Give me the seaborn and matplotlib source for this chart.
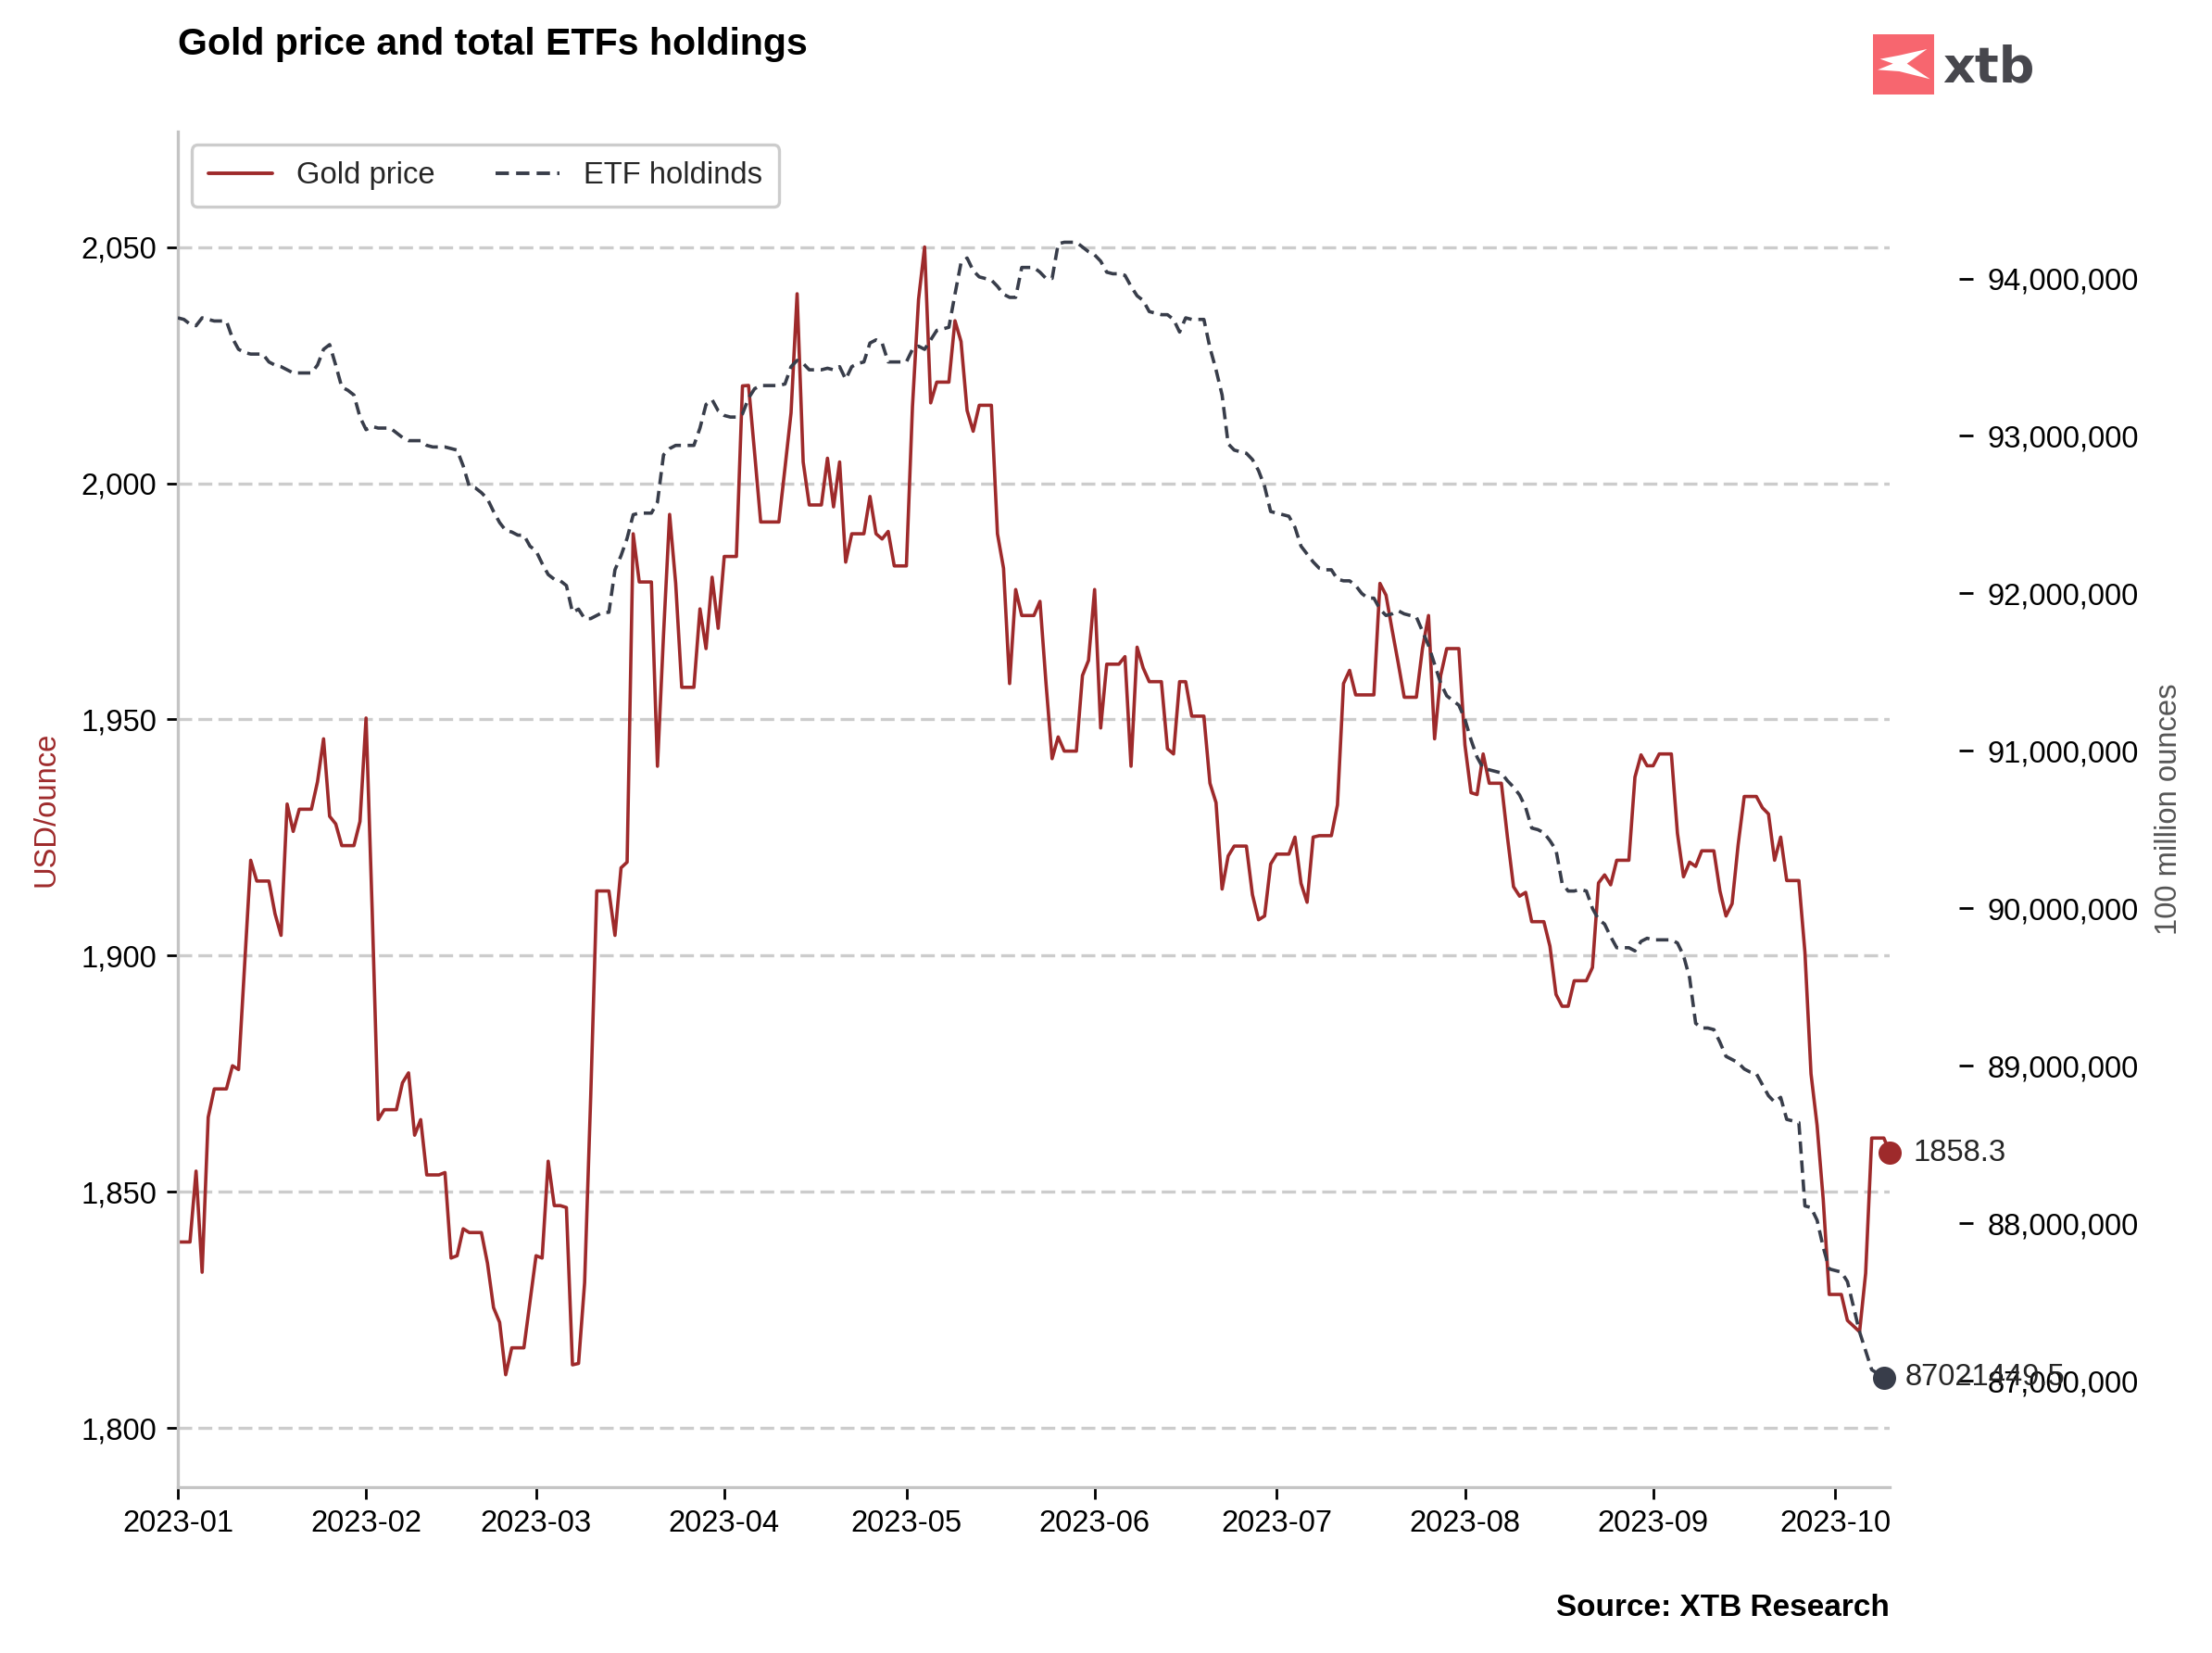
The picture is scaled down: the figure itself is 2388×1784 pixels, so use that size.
import numpy as np
import pandas as pd
import seaborn as sns
import matplotlib.pyplot as plt
import matplotlib.dates as mdates
from matplotlib.ticker import StrMethodFormatter, MultipleLocator
from matplotlib.patches import Rectangle, Polygon
from matplotlib.lines import Line2D

# daily values from 2023-01-01 (weekends repeat the next trading day)
gold_price = [
    # Jan
    1839.4, 1839.4, 1839.4, 1854.4, 1833.0, 1865.8, 1871.8, 1871.8, 1871.8, 1876.7,
    1875.9, 1898.0, 1920.2, 1915.8, 1915.8, 1915.8, 1908.9, 1904.3, 1932.1, 1926.3,
    1931.0, 1931.0, 1931.0, 1936.8, 1945.9, 1929.5, 1927.9, 1923.3, 1923.3, 1923.3,
    1928.4,
    # Feb
    1950.3, 1910.0, 1865.3, 1867.4, 1867.4, 1867.4, 1873.1, 1875.2, 1862.0, 1865.3,
    1853.6, 1853.6, 1853.6, 1854.1, 1836.0, 1836.5, 1842.2, 1841.4, 1841.4, 1841.4,
    1834.9, 1825.5, 1822.4, 1811.3, 1817.0, 1817.0, 1817.0, 1826.7,
    # Mar
    1836.5, 1836.0, 1856.5, 1847.1, 1847.1, 1846.7, 1813.4, 1813.7, 1830.8, 1870.0,
    1913.7, 1913.7, 1913.7, 1904.3, 1918.6, 1919.8, 1989.3, 1979.1, 1979.1, 1979.1,
    1940.1, 1968.0, 1993.4, 1978.8, 1956.8, 1956.8, 1956.8, 1973.4, 1965.0, 1980.1,
    1969.3,
    # Apr
    1984.5, 1984.5, 1984.5, 2020.6, 2020.7, 2006.4, 1991.8, 1991.8, 1991.8, 1991.8,
    2003.2, 2014.9, 2040.1, 2004.5, 1995.4, 1995.4, 1995.4, 2005.3, 1995.0, 2004.5,
    1983.3, 1989.3, 1989.3, 1989.3, 1997.2, 1989.3, 1988.2, 1989.8, 1982.5, 1982.5,
    # May
    1982.5, 2016.2, 2038.9, 2050.0, 2017.0, 2021.4, 2021.4, 2021.4, 2034.4, 2030.0,
    2015.4, 2011.0, 2016.5, 2016.5, 2016.5, 1989.3, 1982.0, 1957.6, 1977.5, 1972.0,
    1972.0, 1972.0, 1975.0, 1957.6, 1941.7, 1946.3, 1943.3, 1943.3, 1943.3, 1959.3,
    1962.5,
    # Jun
    1977.5, 1948.2, 1961.7, 1961.7, 1961.7, 1963.3, 1940.1, 1965.3, 1960.9, 1958.0,
    1958.0, 1958.0, 1943.8, 1942.7, 1958.0, 1958.0, 1950.7, 1950.7, 1950.7, 1936.5,
    1932.4, 1914.1, 1921.1, 1923.2, 1923.2, 1923.2, 1912.9, 1907.6, 1908.4, 1919.4,
    # Jul
    1921.5, 1921.5, 1921.5, 1925.1, 1915.3, 1911.3, 1925.1, 1925.4, 1925.4, 1925.4,
    1931.9, 1957.6, 1960.4, 1955.2, 1955.2, 1955.2, 1955.2, 1978.8, 1976.3, 1969.0,
    1962.0, 1954.7, 1954.7, 1954.7, 1965.0, 1972.0, 1945.9, 1959.3, 1965.0, 1965.0,
    1965.0,
    # Aug
    1944.6, 1934.5, 1934.1, 1942.7, 1936.5, 1936.5, 1936.5, 1925.1, 1914.6, 1912.6,
    1913.4, 1907.2, 1907.2, 1907.2, 1902.0, 1891.8, 1889.3, 1889.3, 1894.7, 1894.7,
    1894.7, 1897.5, 1915.4, 1917.1, 1915.0, 1920.2, 1920.2, 1920.2, 1937.8, 1942.5,
    1940.2,
    # Sep
    1940.2, 1942.7, 1942.7, 1942.7, 1925.9, 1916.7, 1919.8, 1918.9, 1922.2, 1922.2,
    1922.2, 1913.7, 1908.4, 1911.0, 1923.5, 1933.7, 1933.7, 1933.7, 1931.3, 1930.0,
    1920.2, 1925.1, 1915.9, 1915.9, 1915.9, 1900.7, 1875.0, 1864.1, 1848.6, 1828.3,
    # Oct
    1828.3, 1828.3, 1822.8, 1821.6, 1820.4, 1832.8, 1861.4, 1861.4, 1861.4, 1858.3,
]

# ETF holdings, millions of ounces
etf_holdings_mn = [
    # Jan
    93.75, 93.74, 93.71, 93.70, 93.75, 93.74, 93.73, 93.73, 93.73, 93.62,
    93.55, 93.53, 93.52, 93.52, 93.52, 93.47, 93.45, 93.44, 93.42, 93.40,
    93.40, 93.40, 93.40, 93.45, 93.55, 93.58, 93.45, 93.31, 93.29, 93.26,
    93.12,
    # Feb
    93.04, 93.06, 93.05, 93.05, 93.05, 93.02, 92.99, 92.97, 92.97, 92.97,
    92.94, 92.93, 92.93, 92.93, 92.92, 92.91, 92.81, 92.68, 92.67, 92.64,
    92.60, 92.52, 92.45, 92.40, 92.39, 92.37, 92.37, 92.30,
    # Mar
    92.27, 92.19, 92.12, 92.09, 92.08, 92.05, 91.88, 91.90, 91.84, 91.84,
    91.86, 91.88, 91.88, 92.15, 92.24, 92.35, 92.50, 92.51, 92.51, 92.51,
    92.58, 92.88, 92.92, 92.94, 92.94, 92.94, 92.94, 93.05, 93.20, 93.23,
    93.16,
    # Apr
    93.13, 93.12, 93.12, 93.14, 93.24, 93.30, 93.32, 93.32, 93.32, 93.32,
    93.33, 93.44, 93.48, 93.46, 93.42, 93.42, 93.42, 93.43, 93.42, 93.44,
    93.36, 93.44, 93.46, 93.47, 93.59, 93.61, 93.59, 93.47, 93.47, 93.47,
    # May
    93.47, 93.55, 93.57, 93.55, 93.61, 93.67, 93.68, 93.69, 93.90, 94.10,
    94.13, 94.05, 94.01, 94.00, 93.99, 93.95, 93.90, 93.88, 93.88, 94.07,
    94.07, 94.07, 94.04, 94.00, 94.00, 94.22, 94.23, 94.23, 94.23, 94.20,
    94.17,
    # Jun
    94.15, 94.11, 94.04, 94.03, 94.03, 94.02, 93.95, 93.89, 93.86, 93.79,
    93.78, 93.77, 93.77, 93.74, 93.66, 93.75, 93.74, 93.74, 93.74, 93.56,
    93.42, 93.26, 92.95, 92.91, 92.90, 92.89, 92.85, 92.78, 92.68, 92.52,
    # Jul
    92.51, 92.50, 92.49, 92.42, 92.30, 92.25, 92.20, 92.16, 92.15, 92.15,
    92.09, 92.08, 92.08, 92.05, 92.00, 91.97, 91.97, 91.90, 91.86, 91.87,
    91.89, 91.87, 91.86, 91.85, 91.76, 91.67, 91.55, 91.43, 91.35, 91.32,
    91.29,
    # Aug
    91.20, 91.07, 90.96, 90.89, 90.88, 90.87, 90.86, 90.81, 90.77, 90.72,
    90.64, 90.51, 90.50, 90.48, 90.43, 90.37, 90.16, 90.11, 90.11, 90.12,
    90.11, 90.00, 89.93, 89.90, 89.82, 89.75, 89.75, 89.75, 89.73, 89.79,
    89.81,
    # Sep
    89.80, 89.80, 89.80, 89.80, 89.78, 89.70, 89.56, 89.27, 89.24, 89.24,
    89.23, 89.15, 89.06, 89.04, 89.02, 88.98, 88.96, 88.95, 88.88, 88.81,
    88.77, 88.80, 88.66, 88.65, 88.64, 88.11, 88.10, 88.02, 87.85, 87.71,
    # Oct
    87.70, 87.69, 87.63, 87.47, 87.31, 87.19, 87.07, 87.045, 87.0214495,
]

start_date = '2023-01-01'
gold_color = '#9E2A2B'
etf_color = '#383D4A'
fs = 11.8

sns.set_theme(style='white')
plt.rcParams['font.family'] = ['Liberation Sans', 'DejaVu Sans']

gold_df = pd.DataFrame({
    'date': pd.date_range(start_date, periods=len(gold_price), freq='D'),
    'price': gold_price,
})
etf_df = pd.DataFrame({
    'date': pd.date_range(start_date, periods=len(etf_holdings_mn), freq='D'),
    'holdings': np.array(etf_holdings_mn) * 1e6,
})

fig, ax = plt.subplots(figsize=(11.94, 8.92), dpi=200)
fig.subplots_adjust(left=0.0804, right=0.8544, bottom=0.1003, top=0.9206)
ax2 = ax.twinx()

etf_dash = (0, (3.7, 2.0))
sns.lineplot(data=gold_df, x='date', y='price', ax=ax, color=gold_color, lw=1.3, legend=False)
sns.lineplot(data=etf_df, x='date', y='holdings', ax=ax2, color=etf_color, lw=1.3,
             linestyle=etf_dash, legend=False)

# last value markers
g_last = gold_df.iloc[-1]
ax.plot(g_last['date'], g_last['price'], 'o', color=gold_color, ms=8, clip_on=False, zorder=6)
ax.annotate(f"{g_last['price']:.1f}", (g_last['date'], g_last['price']), xytext=(9, 0),
            textcoords='offset points', va='center', ha='left', fontsize=fs,
            annotation_clip=False)
e_last = etf_df.iloc[-1]
ax2.plot(e_last['date'], e_last['holdings'], 'o', color=etf_color, ms=8, clip_on=False, zorder=6)
ax2.annotate(str(round(e_last['holdings'], 1)), (e_last['date'], e_last['holdings']),
             xytext=(8.4, 0), textcoords='offset points', va='center', ha='left',
             fontsize=fs, annotation_clip=False)

# axes
ax.set_xlim(gold_df['date'].iloc[0], gold_df['date'].iloc[-1])
ax.set_ylim(1787.5, 2074.5)
ax2.set_ylim(86.324e6, 94.935e6)
ax.xaxis.set_major_locator(mdates.MonthLocator())
ax.xaxis.set_major_formatter(mdates.DateFormatter('%Y-%m'))
ax.yaxis.set_major_locator(MultipleLocator(50))
ax.yaxis.set_major_formatter(StrMethodFormatter('{x:,.0f}'))
ax2.yaxis.set_major_locator(MultipleLocator(1e6))
ax2.yaxis.set_major_formatter(StrMethodFormatter('{x:,.0f}'))
ax.set_xlabel('')
ax.set_ylabel('')
ax2.set_ylabel('')

ax.tick_params(axis='y', left=True, length=4.5, width=1, color='black', pad=3.8,
               labelsize=fs, labelcolor='black')
ax.tick_params(axis='x', bottom=True, length=4.5, width=1, color='black', pad=4,
               labelsize=fs, labelcolor='black')
ax2.tick_params(axis='y', right=True, length=5.4, width=1, color='black', pad=5.5,
                labelsize=fs, labelcolor='black')

for s in ['top', 'right']:
    ax.spines[s].set_visible(False)
for s in ['left', 'bottom']:
    ax.spines[s].set_color('#c4c4c4')
    ax.spines[s].set_linewidth(1.2)
for s in ax2.spines.values():
    s.set_visible(False)
ax2.spines['right'].set_position(('outward', 26.9))

ax.grid(axis='y', color='#cccccc', lw=1.2, linestyle=(0, (4.5, 2)))
ax.grid(axis='x', visible=False)
ax.set_axisbelow(True)

ax.text(-0.0768, 0.5, 'USD/ounce', transform=ax.transAxes, rotation=90,
        ha='center', va='center', color=gold_color, fontsize=fs)
ax.text(1.163, 0.5, '100 million ounces', transform=ax.transAxes, rotation=90,
        ha='center', va='center', color='#555555', fontsize=fs)

# legend
handles = [Line2D([], [], color=gold_color, lw=1.4),
           Line2D([], [], color=etf_color, lw=1.4, linestyle=etf_dash)]
leg = ax2.legend(handles, ['Gold price', 'ETF holdinds'], loc='upper left',
                 bbox_to_anchor=(0.008, 0.99), ncol=2, frameon=True, fontsize=fs,
                 handlelength=2.1, handletextpad=0.8, columnspacing=2.0,
                 borderpad=0.55, borderaxespad=0, fancybox=True, framealpha=1)
leg.get_frame().set_edgecolor('#cccccc')
leg.get_frame().set_linewidth(1.2)

# title, source, logo
fig.text(0.0804, 1 - 59 / 1784, 'Gold price and total ETFs holdings', fontsize=14.8,
         fontweight='bold', ha='left', va='baseline', color='black')
fig.text(2040 / 2388, 1 - 1736 / 1784, 'Source: XTB Research', fontsize=12,
         fontweight='bold', ha='right', va='center', color='black')

lx, ly, lw_, lh = 2022 / 2388, 1 - 102 / 1784, 66 / 2388, 65 / 1784
fig.add_artist(Rectangle((lx, ly), lw_, lh, transform=fig.transFigure,
                         facecolor='#F7666F', edgecolor='none'))
x_shape = [(0.116, 0.59), (0.43, 0.65), (0.884, 0.754), (0.556, 0.513),
           (0.934, 0.256), (0.43, 0.385), (0.076, 0.41), (0.328, 0.513)]
fig.add_artist(Polygon([(lx + u * lw_, ly + v * lh) for u, v in x_shape], closed=True,
                       transform=fig.transFigure, facecolor='white', edgecolor='none'))
fig.text(2097 / 2388, 1 - 88 / 1784, 'xtb', fontsize=19.5, fontweight='bold',
         color='#47474D', family='DejaVu Sans', va='baseline', ha='left')

fig.savefig('out.png', dpi=200)
